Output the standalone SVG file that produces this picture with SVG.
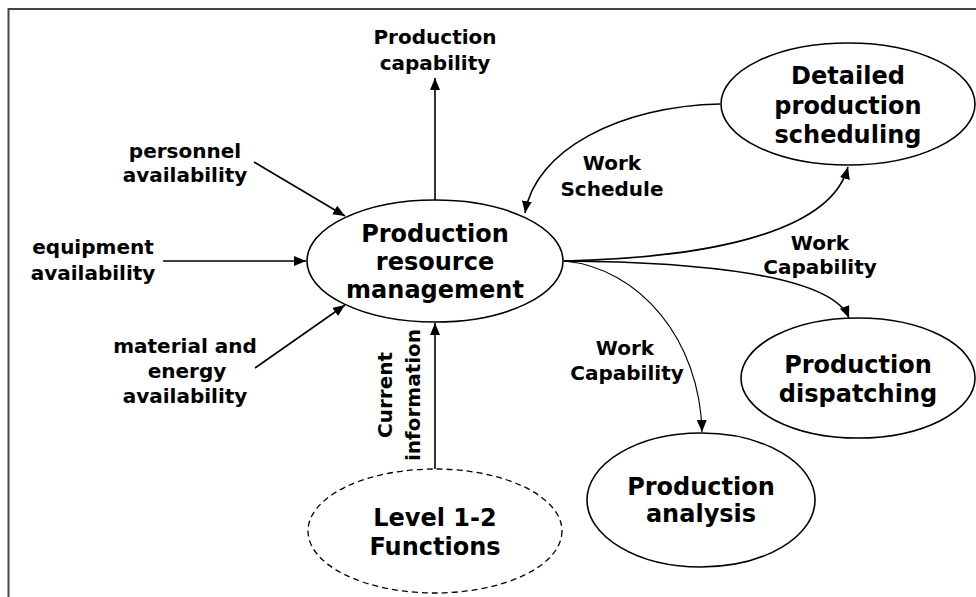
<svg xmlns="http://www.w3.org/2000/svg" width="976" height="597" viewBox="0 0 976 597">
<style>
.n{fill:#fff;stroke:#000;stroke-width:1.6}
.d{fill:#fff;stroke:#000;stroke-width:1.3;stroke-dasharray:6 4}
.t{font-family:"DejaVu Sans","Verdana",sans-serif;font-weight:bold;font-size:24px;text-anchor:middle;fill:#000}
.l{font-family:"DejaVu Sans","Verdana",sans-serif;font-weight:bold;font-size:20px;text-anchor:middle;fill:#000}
.c{fill:none;stroke:#000;stroke-width:1.6}
.c1{fill:none;stroke:#000;stroke-width:1.1}
</style>
<defs>
<marker id="a" markerUnits="userSpaceOnUse" markerWidth="14" markerHeight="12" refX="12" refY="5" orient="auto">
<path d="M0,0 L12,5 L0,10 Z" fill="#000"/>
</marker>
</defs>
<rect width="976" height="597" fill="#fff"/>
<path d="M8.5,597 V9 H976" fill="none" stroke="#444" stroke-width="2"/>

<g id="connectors">
<line class="c" x1="435" y1="200" x2="435" y2="78" marker-end="url(#a)"/>
<line class="c" x1="254" y1="162" x2="345" y2="216" marker-end="url(#a)"/>
<line class="c" x1="163" y1="261" x2="306" y2="261" marker-end="url(#a)"/>
<line class="c" x1="255" y1="368" x2="345" y2="305" marker-end="url(#a)"/>
<line class="c" x1="435" y1="469" x2="435" y2="323" marker-end="url(#a)"/>
<path class="c" d="M720,104 C620,106 535,150 525,213" marker-end="url(#a)"/>
<path class="c" d="M564,261 C700,258 830,235 848,167" marker-end="url(#a)"/>
<path class="c" d="M564,261 C700,262 832,275 849,318" marker-end="url(#a)"/>
<path class="c1" d="M564,261 C640,268 700,340 702,432" marker-end="url(#a)"/>
<text class="l" x="435" y="44">Production</text>
<text class="l" x="435" y="70">capability</text>
<text class="l" x="185" y="158">personnel</text>
<text class="l" x="185" y="182">availability</text>
<text class="l" x="93" y="254">equipment</text>
<text class="l" x="93" y="280">availability</text>
<text class="l" x="185" y="353">material and</text>
<text class="l" x="187" y="378">energy</text>
<text class="l" x="185" y="403">availability</text>
<text class="l" transform="translate(392,395) rotate(-90)">Current</text>
<text class="l" transform="translate(420,395) rotate(-90)">information</text>
<text class="l" x="612" y="170">Work</text>
<text class="l" x="612" y="196">Schedule</text>
<text class="l" x="820" y="250">Work</text>
<text class="l" x="820" y="274">Capability</text>
<text class="l" x="625" y="355">Work</text>
<text class="l" x="627" y="380">Capability</text>
</g>

<g id="prm">
<ellipse class="n" cx="435" cy="261" rx="128" ry="61"/>
<text class="t" x="435" y="242">Production</text>
<text class="t" x="435" y="270">resource</text>
<text class="t" x="435" y="298">management</text>
</g>
<g id="dps">
<ellipse class="n" cx="848" cy="104" rx="127" ry="61"/>
<text class="t" x="848" y="84">Detailed</text>
<text class="t" x="848" y="114">production</text>
<text class="t" x="848" y="143">scheduling</text>
</g>
<g id="pd">
<ellipse class="n" cx="858" cy="378" rx="117" ry="60"/>
<text class="t" x="858" y="373">Production</text>
<text class="t" x="858" y="402">dispatching</text>
</g>
<g id="pa">
<ellipse class="n" cx="701" cy="500" rx="114" ry="67"/>
<text class="t" x="701" y="495">Production</text>
<text class="t" x="701" y="522">analysis</text>
</g>
<g id="l12">
<ellipse class="d" cx="435" cy="531" rx="127" ry="62"/>
<text class="t" x="435" y="526">Level 1-2</text>
<text class="t" x="435" y="555">Functions</text>
</g>
</svg>
